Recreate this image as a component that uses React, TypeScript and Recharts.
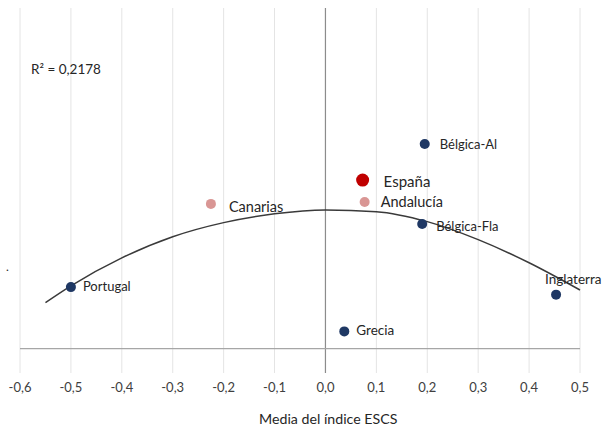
import {
  ComposedChart,
  CartesianGrid,
  Line,
  ReferenceLine,
  Scatter,
  XAxis,
  YAxis,
} from "recharts";

// puntos: media del índice ESCS (x) y valor vertical (sin escala visible)
const paises = ["Bélgica-Al", "Bélgica-Fla", "Inglaterra", "Grecia", "Portugal"];
const paisesX = [0.195, 0.19, 0.453, 0.037, -0.5];
const paisesY = [84.1, 51.2, 22.2, 7.1, 25.3];

const regiones = ["Andalucía", "Canarias"];
const regionesX = [0.077, -0.225];
const regionesY = [60.3, 59.5];

const espana = ["España"];
const espanaX = [0.073];
const espanaY = [69.3];

// línea de tendencia polinómica
const trendX = [-0.55, -0.5, -0.4, -0.3, -0.2, -0.1, 0, 0.1, 0.2, 0.3, 0.4, 0.5];
const trendY = [18.9, 25.8, 37.3, 46.0, 51.8, 55.4, 57.0, 56.3, 52.2, 44.8, 35.3, 24.1];

const xTicks = [-0.6, -0.5, -0.4, -0.3, -0.2, -0.1, 0, 0.1, 0.2, 0.3, 0.4, 0.5];
const r2Text = "R² = 0,2178";
const xTitle = "Media del índice ESCS";

const font = "Lato, 'Open Sans', sans-serif";

const build = (names: string[], xs: number[], ys: number[]) =>
  names.map((name, i) => ({ name, x: xs[i], y: ys[i] }));

const labelStyle: Record<string, { dx: number; dy: number; size: number }> = {
  "Bélgica-Al": { dx: 15, dy: 0, size: 13 },
  "Bélgica-Fla": { dx: 14, dy: 2, size: 13 },
  Inglaterra: { dx: -11, dy: -16, size: 13.5 },
  Grecia: { dx: 12, dy: -1, size: 13.5 },
  Portugal: { dx: 12, dy: -1, size: 13 },
  Andalucía: { dx: 16, dy: 0, size: 14.5 },
  Canarias: { dx: 18, dy: 3, size: 14.5 },
  España: { dx: 21, dy: 1, size: 15 },
};

const makeShape = (fill: string, r: number) => (props: any) => {
  const { cx, cy, payload } = props;
  const s = labelStyle[payload.name];
  return (
    <g>
      <circle cx={cx} cy={cy} r={r} fill={fill} />
      <text
        x={cx + s.dx}
        y={cy + s.dy}
        dominantBaseline="central"
        fontSize={s.size}
        fontFamily={font}
        fill="#262626"
      >
        {payload.name}
      </text>
    </g>
  );
};

const fmt = (v: number) => v.toFixed(1).replace(".", ",");

export default function App() {
  const trend = build(trendX.map(String), trendX, trendY);
  return (
    <div style={{ position: "absolute", left: 0, top: 0, width: 605, height: 429 }}>
      <ComposedChart
        width={605}
        height={429}
        margin={{ top: 8, right: 25, bottom: 26, left: 20 }}
      >
        <CartesianGrid horizontal={false} stroke="#e4e4e4" />
        <XAxis
          type="number"
          dataKey="x"
          domain={[-0.6, 0.5]}
          ticks={xTicks}
          tickFormatter={fmt}
          axisLine={false}
          tickLine={false}
          height={30}
          tick={{ fontSize: 13, fill: "#404040", fontFamily: font, dy: 2 }}
        />
        <YAxis type="number" dataKey="y" domain={[-10, 140]} hide />
        <ReferenceLine x={0} stroke="#8c8c8c" strokeWidth={1.2} />
        <ReferenceLine y={0} stroke="#a6a6a6" strokeWidth={1.2} />
        <Line
          data={trend}
          dataKey="y"
          type="monotone"
          stroke="#3a3a3a"
          strokeWidth={1.5}
          dot={false}
          isAnimationActive={false}
        />
        <Scatter
          data={build(regiones, regionesX, regionesY)}
          shape={makeShape("#d99694", 5)}
          isAnimationActive={false}
        />
        <Scatter
          data={build(paises, paisesX, paisesY)}
          shape={makeShape("#1f3864", 5)}
          isAnimationActive={false}
        />
        <Scatter
          data={build(espana, espanaX, espanaY)}
          shape={makeShape("#c00000", 6.5)}
          isAnimationActive={false}
        />
      </ComposedChart>
      <div
        style={{
          position: "absolute",
          left: 31,
          top: 61,
          fontSize: 13.5,
          fontFamily: font,
          color: "#262626",
        }}
      >
        {r2Text}
      </div>
      <div
        style={{
          position: "absolute",
          left: 259,
          top: 410,
          fontSize: 14.2,
          fontFamily: font,
          color: "#262626",
          whiteSpace: "nowrap",
        }}
      >
        {xTitle}
      </div>
      <div
        style={{
          position: "absolute",
          left: 6,
          top: 259,
          fontSize: 12,
          fontFamily: font,
          color: "#262626",
        }}
      >
        .
      </div>
    </div>
  );
}
